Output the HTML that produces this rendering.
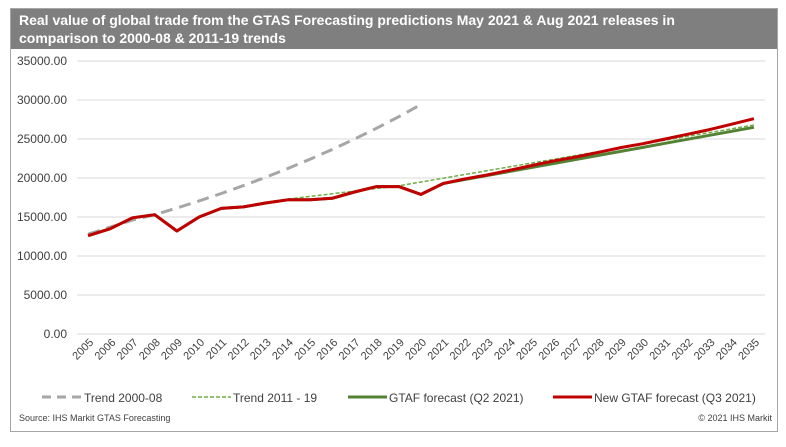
<!DOCTYPE html>
<html><head><meta charset="utf-8"><style>
body{margin:0;background:#fff;width:786px;height:442px;overflow:hidden;font-family:"Liberation Sans",Arial,sans-serif}
</style></head><body>
<svg id="s" width="786" height="442" xmlns="http://www.w3.org/2000/svg" font-family="Liberation Sans, Arial, sans-serif">
<rect x="10.5" y="8.5" width="767" height="423" fill="#fff" stroke="#a6a6a6"/>
<rect x="11" y="9" width="766" height="40" fill="#7f7f7f"/>
<text x="19" y="25" fill="#fff" font-size="14" font-weight="bold">Real  value of global trade from  the GTAS Forecasting predictions May 2021 &amp; Aug 2021 releases in</text>
<text x="19" y="43" fill="#fff" font-size="14" font-weight="bold">comparison to 2000-08 &amp; 2011-19 trends</text>
<g id="g"></g>
<line x1="42" y1="397" x2="82" y2="397" stroke="#a6a6a6" stroke-width="3" stroke-dasharray="9,6"/>
<text x="84" y="402" font-size="12" fill="#404040">Trend 2000-08</text>
<line x1="192" y1="397" x2="231" y2="397" stroke="#70ad47" stroke-width="1.5" stroke-dasharray="4,2"/>
<text x="233" y="402" font-size="12" fill="#404040">Trend 2011 - 19</text>
<line x1="348" y1="397" x2="387" y2="397" stroke="#548235" stroke-width="3"/>
<text x="389" y="402" font-size="12" fill="#404040">GTAF forecast (Q2 2021)</text>
<line x1="553" y1="397" x2="592" y2="397" stroke="#c00000" stroke-width="3"/>
<text x="594" y="402" font-size="12" fill="#404040">New GTAF forecast (Q3 2021)</text>
<text x="19" y="421" font-size="9" fill="#404040">Source: IHS Markit GTAS Forecasting</text>
<text x="772" y="421" font-size="9" fill="#404040" text-anchor="end">© 2021 IHS Markit</text>
</svg>
<script>
var g=document.getElementById('g'),h='';
var X0=77,X1=765,n=31,w=(X1-X0)/n;
function X(i){return X0+w*(i+0.5)}
function Y(v){return 334-v*273/35000}
for(var k=0;k<=7;k++){var y=Y(k*5000);h+='<line x1="'+X0+'" y1="'+y+'" x2="'+X1+'" y2="'+y+'" stroke="#d9d9d9"/>';
h+='<text x="67" y="'+(y+4)+'" font-size="12" fill="#404040" text-anchor="end">'+(k*5000)+'.00</text>';}
for(var i=0;i<n;i++){var x=X(i);h+='<text transform="translate('+(x+6)+',343) rotate(-45)" font-size="11" fill="#404040" text-anchor="end">'+(2005+i)+'</text>';}
var red=[12600,13500,14900,15300,13200,15000,16100,16300,16800,17200,17200,17400,18200,18900,18900,17900,19300,19900,20400,21000,21600,22200,22700,23300,23900,24400,25000,25600,26200,26900,27600];
var grn=red.slice(0,17);for(var i=17;i<n;i++)grn.push(19300+(i-16)*(26500-19300)/14);
var t1=[];for(var i=0;i<=15;i++){t1.push(i<=3?[12800,13700,14600,15300][i]:15300*Math.pow(1.056,i-3));}
var t2=[];for(var i=9;i<n;i++){t2.push(i<=14?17300+(i-9)*340:19000+(i-14)*(26800-19000)/16);}
function pl(a,off,st){var p=a.map(function(v,j){return X(j+off).toFixed(1)+','+Y(v).toFixed(1)}).join(' ');return '<polyline fill="none" stroke-linejoin="round" points="'+p+'" '+st+'/>';}
h+=pl(t1,0,'stroke="#a6a6a6" stroke-width="3" stroke-dasharray="12,7"');
h+=pl(grn,0,'stroke="#548235" stroke-width="3"');
h+=pl(t2,9,'stroke="#70ad47" stroke-width="1.5" stroke-dasharray="4,2"');
h+=pl(red,0,'stroke="#c00000" stroke-width="3"');
g.innerHTML=h;
</script>
</body></html>
